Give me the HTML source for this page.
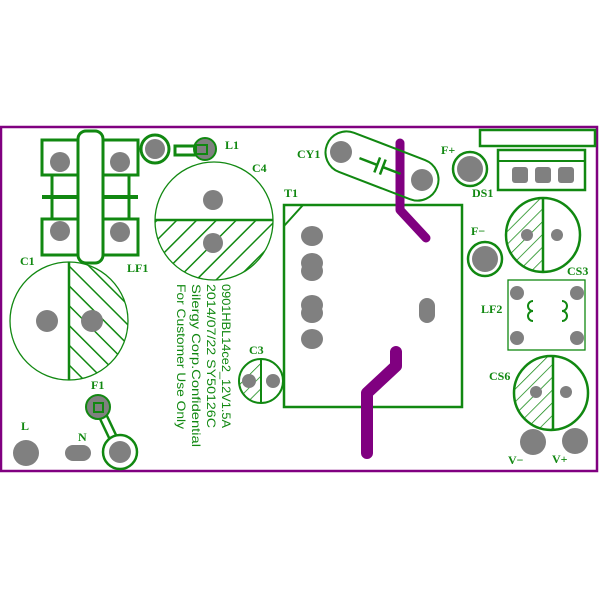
<!DOCTYPE html>
<html><head><meta charset="utf-8"><style>html,body{margin:0;padding:0;background:#fff}svg{display:block}</style></head><body>
<svg width="600" height="600" viewBox="0 0 600 600" xmlns="http://www.w3.org/2000/svg">
<defs>
<pattern id="h" patternUnits="userSpaceOnUse" width="14" height="14" patternTransform="rotate(45)">
<rect width="14" height="14" fill="#fff"/><line x1="0" y1="0" x2="0" y2="14" stroke="#118811" stroke-width="3"/></pattern>
<pattern id="h2" patternUnits="userSpaceOnUse" width="14" height="14" patternTransform="rotate(-45)">
<rect width="14" height="14" fill="#fff"/><line x1="0" y1="0" x2="0" y2="14" stroke="#118811" stroke-width="3"/></pattern>
<pattern id="h3" patternUnits="userSpaceOnUse" width="9" height="9" patternTransform="rotate(45)">
<rect width="9" height="9" fill="#fff"/><line x1="0" y1="0" x2="0" y2="9" stroke="#118811" stroke-width="1.5"/></pattern>
<clipPath id="c4b"><rect x="150" y="220" width="130" height="70"/></clipPath>
<clipPath id="c1r"><rect x="69" y="255" width="70" height="130"/></clipPath>
<clipPath id="c3l"><rect x="235" y="355" width="26" height="55"/></clipPath>
<clipPath id="cs3l"><rect x="500" y="195" width="43" height="85"/></clipPath>
<clipPath id="cs6l"><rect x="510" y="352" width="43" height="85"/></clipPath>
</defs>
<rect x="1" y="127" width="596" height="344" fill="#fff" stroke="#800080" stroke-width="2.5"/>
<g fill="none" stroke="#118811" stroke-width="3">
<rect x="42" y="140" width="96" height="35"/>
<rect x="42" y="219" width="96" height="36"/>
<line x1="52" y1="175" x2="52" y2="219"/><line x1="129" y1="175" x2="129" y2="219"/>
<line x1="42" y1="197" x2="138" y2="197" stroke-width="4"/>
<rect x="78" y="131" width="25" height="132" rx="8" fill="#fff"/>
<circle cx="155" cy="149" r="14"/>
<rect x="175" y="146" width="30" height="9"/>
</g>
<g fill="#808080">
<circle cx="60" cy="162" r="10"/><circle cx="120" cy="162" r="10"/>
<circle cx="60" cy="231" r="10"/><circle cx="120" cy="232" r="10"/>
<circle cx="155" cy="149" r="10"/>
</g>
<circle cx="205" cy="149" r="11" fill="#808080" stroke="#118811" stroke-width="2"/>
<rect x="196" y="145" width="11" height="9" fill="none" stroke="#118811" stroke-width="2"/>
<circle cx="214" cy="221" r="59" fill="url(#h)" clip-path="url(#c4b)"/>
<circle cx="214" cy="221" r="59" fill="none" stroke="#118811" stroke-width="1.3"/>
<line x1="155" y1="220" x2="273" y2="220" stroke="#118811" stroke-width="2.5"/>
<circle cx="213" cy="200" r="10" fill="#808080"/><circle cx="213" cy="243" r="10" fill="#808080"/>
<circle cx="69" cy="321" r="59" fill="url(#h2)" clip-path="url(#c1r)"/>
<circle cx="69" cy="321" r="59" fill="none" stroke="#118811" stroke-width="1.3"/>
<line x1="69" y1="262" x2="69" y2="380" stroke="#118811" stroke-width="2.5"/>
<circle cx="47" cy="321" r="11" fill="#808080"/><circle cx="92" cy="321" r="11" fill="#808080"/>
<line x1="100" y1="410" x2="118" y2="448" stroke="#118811" stroke-width="10"/>
<line x1="100" y1="410" x2="118" y2="448" stroke="#fff" stroke-width="5"/>
<circle cx="98" cy="407" r="12" fill="#808080" stroke="#118811" stroke-width="2"/>
<rect x="94" y="403" width="9" height="9" fill="none" stroke="#118811" stroke-width="2"/>
<circle cx="120" cy="452" r="17" fill="#fff" stroke="#118811" stroke-width="2.5"/>
<circle cx="120" cy="452" r="11" fill="#808080"/>
<circle cx="26" cy="453" r="13" fill="#808080"/>
<rect x="65" y="445" width="26" height="16" rx="8" fill="#808080"/>
<circle cx="261" cy="381" r="22" fill="url(#h3)" clip-path="url(#c3l)"/>
<circle cx="261" cy="381" r="22" fill="none" stroke="#118811" stroke-width="2"/>
<line x1="261" y1="359" x2="261" y2="403" stroke="#118811" stroke-width="2"/>
<circle cx="249" cy="381" r="7" fill="#808080"/><circle cx="273" cy="381" r="7" fill="#808080"/>
<rect x="284" y="205" width="178" height="202" fill="none" stroke="#118811" stroke-width="2.5"/>
<line x1="284" y1="226" x2="303" y2="205" stroke="#118811" stroke-width="2"/>
<g fill="#808080">
<ellipse cx="312" cy="236" rx="11" ry="10"/>
<ellipse cx="312" cy="263" rx="11" ry="10"/><ellipse cx="312" cy="271" rx="11" ry="10"/>
<ellipse cx="312" cy="305" rx="11" ry="10"/><ellipse cx="312" cy="313" rx="11" ry="10"/>
<ellipse cx="312" cy="339" rx="11" ry="10"/>
<rect x="419" y="298" width="16" height="25" rx="8"/>
</g>
<polyline points="400,143 400,210 426,238" fill="none" stroke="#800080" stroke-width="9" stroke-linecap="round" stroke-linejoin="round"/>
<polyline points="396,352 396,366 367,393 367,453" fill="none" stroke="#800080" stroke-width="12" stroke-linecap="round" stroke-linejoin="round"/>
<g transform="rotate(21 382 166)">
<rect x="323" y="145" width="118" height="42" rx="21" fill="none" stroke="#118811" stroke-width="2"/>
</g>
<circle cx="341" cy="152" r="11" fill="#808080"/><circle cx="422" cy="180" r="11" fill="#808080"/>
<g stroke="#118811" stroke-width="2.5" transform="rotate(21 380 166)">
<line x1="358" y1="166" x2="377" y2="166"/><line x1="383" y1="166" x2="402" y2="166"/>
<line x1="377" y1="158" x2="377" y2="174"/><line x1="383" y1="158" x2="383" y2="174"/>
</g>
<circle cx="470" cy="169" r="17" fill="none" stroke="#118811" stroke-width="2.5"/><circle cx="470" cy="169" r="13" fill="#808080"/>
<circle cx="485" cy="259" r="17" fill="none" stroke="#118811" stroke-width="2.5"/><circle cx="485" cy="259" r="13" fill="#808080"/>
<rect x="480" y="130" width="115" height="16" fill="none" stroke="#118811" stroke-width="2.5"/>
<rect x="498" y="150" width="87" height="40" fill="none" stroke="#118811" stroke-width="2.5"/>
<line x1="498" y1="161" x2="585" y2="161" stroke="#118811" stroke-width="2"/>
<g fill="#808080"><rect x="512" y="167" width="16" height="16" rx="3"/><rect x="535" y="167" width="16" height="16" rx="3"/><rect x="558" y="167" width="16" height="16" rx="3"/></g>
<circle cx="543" cy="235" r="37" fill="url(#h3)" clip-path="url(#cs3l)"/>
<circle cx="543" cy="235" r="37" fill="none" stroke="#118811" stroke-width="2.5"/>
<line x1="543" y1="198" x2="543" y2="272" stroke="#118811" stroke-width="2.5"/>
<circle cx="527" cy="235" r="6" fill="#808080"/><circle cx="557" cy="235" r="6" fill="#808080"/>
<rect x="508" y="280" width="77" height="70" fill="none" stroke="#118811" stroke-width="1.3"/>
<g fill="#808080"><circle cx="517" cy="293" r="7"/><circle cx="577" cy="293" r="7"/><circle cx="517" cy="338" r="7"/><circle cx="577" cy="338" r="7"/></g>
<path d="M533,301 a5,5 0 1 0 0,10 a5,5 0 1 0 0,10 M562,301 a5,5 0 1 1 0,10 a5,5 0 1 1 0,10" fill="none" stroke="#118811" stroke-width="2"/>
<circle cx="551" cy="393" r="37" fill="url(#h3)" clip-path="url(#cs6l)"/>
<circle cx="551" cy="393" r="37" fill="none" stroke="#118811" stroke-width="2.5"/>
<line x1="553" y1="356" x2="553" y2="430" stroke="#118811" stroke-width="2.5"/>
<circle cx="536" cy="392" r="6" fill="#808080"/><circle cx="566" cy="392" r="6" fill="#808080"/>
<circle cx="533" cy="442" r="13" fill="#808080"/><circle cx="575" cy="441" r="13" fill="#808080"/>
<g fill="#118811" font-family="Liberation Serif, serif" font-weight="bold" font-size="12">
<text x="225" y="149">L1</text><text x="252" y="172">C4</text><text x="20" y="265">C1</text>
<text x="127" y="272">LF1</text><text x="91" y="389">F1</text><text x="21" y="430">L</text>
<text x="78" y="441">N</text><text x="249" y="354">C3</text><text x="284" y="197">T1</text>
<text x="297" y="158">CY1</text><text x="441" y="154">F+</text><text x="472" y="197">DS1</text>
<text x="471" y="235">F−</text><text x="567" y="275">CS3</text><text x="481" y="313">LF2</text>
<text x="489" y="380">CS6</text><text x="508" y="464">V−</text><text x="552" y="463">V+</text>
</g>
<g fill="#118811" font-family="Liberation Sans Narrow, Liberation Sans, sans-serif" font-size="12">
<text transform="translate(222,284) rotate(90)" textLength="144" lengthAdjust="spacingAndGlyphs">0901HBL14ce2_12V1.5A</text>
<text transform="translate(207,284) rotate(90)" textLength="144" lengthAdjust="spacingAndGlyphs">2014/07/22   SY50126C</text>
<text transform="translate(192,284) rotate(90)" textLength="163" lengthAdjust="spacingAndGlyphs">Silergy Corp.Confidential</text>
<text transform="translate(177,284) rotate(90)" textLength="145" lengthAdjust="spacingAndGlyphs">For Customer Use Only</text>
</g>
</svg>
</body></html>
